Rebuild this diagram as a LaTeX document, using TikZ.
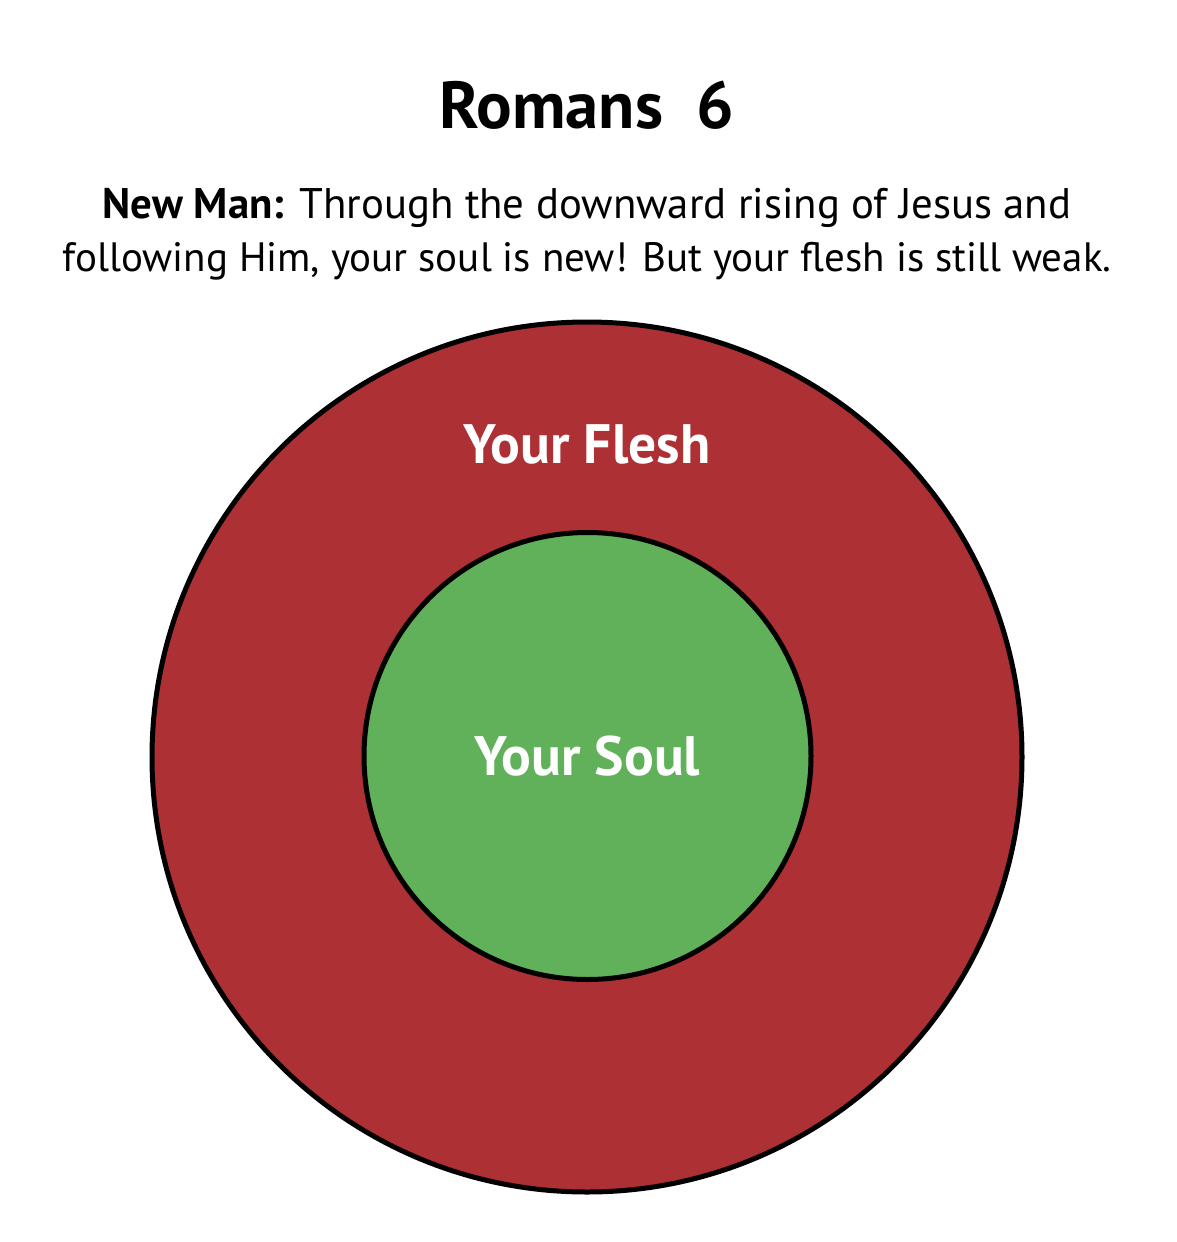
\documentclass[tikz,border=0pt]{standalone}
\usepackage{fontspec}
\setmainfont{PT Sans}
\definecolor{flesh}{HTML}{AD3035}
\definecolor{soul}{HTML}{60B15A}
\begin{document}
\begin{tikzpicture}[x=1pt,y=-1pt,
  ring/.style={draw=black,line width=5pt},
  lbl/.style={text=white,font=\fontsize{55.5}{60}\selectfont\bfseries,anchor=base,inner sep=0pt},
  txt/.style={font=\fontsize{42}{53}\selectfont,anchor=base,inner sep=0pt}]
\useasboundingbox (0,0) rectangle (1176,1242);
\fill[white] (0,0) rectangle (1176,1242);
\node[fill=flesh,ring,circle,minimum size=870pt,inner sep=0pt] (outer) at (587,757) {};
\node[fill=soul,ring,circle,minimum size=447pt,inner sep=0pt] (inner) at (587.5,756) {};
\node[txt,font=\fontsize{66.5}{70}\selectfont\bfseries] (title) at (587,128) {Romans\ \ 6};
\node[txt,font=\fontsize{42.8}{53}\selectfont] (line1) at (587,218) {\textbf{New Man:} Through the downward rising of Jesus and};
\node[txt,font=\fontsize{41}{53}\selectfont] (line2) at (587,271) {following Him, your soul is new! But your flesh is still weak.};
\node[lbl] (fleshlbl) at (587,463) {Your Flesh};
\node[lbl] (soullbl) at (587.5,775) {Your Soul};
\end{tikzpicture}
\end{document}
